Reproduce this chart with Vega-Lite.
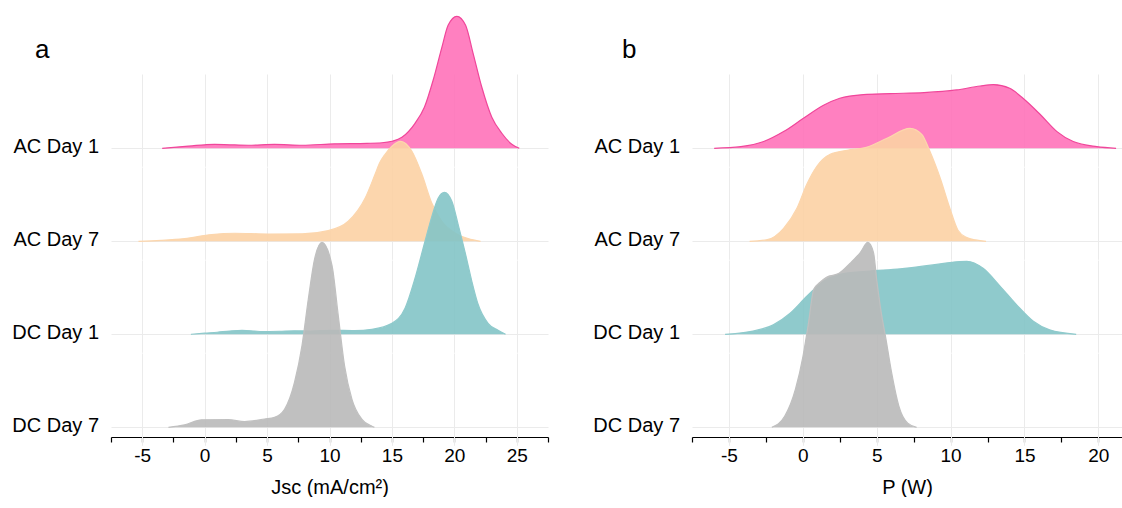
{
  "$schema": "https://vega.github.io/schema/vega-lite/v6.json",
  "background": "white",
  "padding": {"left": 12, "top": 13, "right": 0, "bottom": 0},
  "config": {
    "view": {"stroke": null},
    "font": "Liberation Sans",
    "axis": {
      "labelFont": "Liberation Sans", "labelFontSize": 19, "labelColor": "black",
      "titleFont": "Liberation Sans", "titleFontSize": 20, "titleFontWeight": "normal", "titleColor": "black",
      "domainColor": "black", "domainWidth": 1.2, "tickColor": "black", "tickWidth": 1.2, "tickSize": 5,
      "gridColor": "#EBEBEB", "gridWidth": 1, "labelPadding": 4, "titlePadding": 12
    },
    "header": {
      "labelFont": "Liberation Sans", "labelFontSize": 20, "labelColor": "black",
      "labelAngle": 0, "labelAlign": "left", "labelAnchor": "start", "labelBaseline": "bottom", "labelPadding": 12
    }
  },
  "datasets": {
    "jsc": [
      {"group": "AC Day 1", "x": -3.4, "d": 0}, {"group": "AC Day 1", "x": -2, "d": 0.016}, {"group": "AC Day 1", "x": -1, "d": 0.027},
      {"group": "AC Day 1", "x": 0, "d": 0.038}, {"group": "AC Day 1", "x": 0.8, "d": 0.043}, {"group": "AC Day 1", "x": 2, "d": 0.038},
      {"group": "AC Day 1", "x": 3.5, "d": 0.033}, {"group": "AC Day 1", "x": 5.6, "d": 0.043}, {"group": "AC Day 1", "x": 7.8, "d": 0.033},
      {"group": "AC Day 1", "x": 10.4, "d": 0.049}, {"group": "AC Day 1", "x": 13, "d": 0.054}, {"group": "AC Day 1", "x": 14.2, "d": 0.06},
      {"group": "AC Day 1", "x": 15, "d": 0.076}, {"group": "AC Day 1", "x": 15.8, "d": 0.119}, {"group": "AC Day 1", "x": 16.85, "d": 0.271},
      {"group": "AC Day 1", "x": 17.6, "d": 0.444}, {"group": "AC Day 1", "x": 18.3, "d": 0.737}, {"group": "AC Day 1", "x": 19, "d": 1.094},
      {"group": "AC Day 1", "x": 19.5, "d": 1.333}, {"group": "AC Day 1", "x": 20.2, "d": 1.43}, {"group": "AC Day 1", "x": 20.9, "d": 1.333},
      {"group": "AC Day 1", "x": 21.5, "d": 1.029}, {"group": "AC Day 1", "x": 22.2, "d": 0.661}, {"group": "AC Day 1", "x": 23, "d": 0.336},
      {"group": "AC Day 1", "x": 23.8, "d": 0.163}, {"group": "AC Day 1", "x": 24.6, "d": 0.043}, {"group": "AC Day 1", "x": 25.2, "d": 0},
      {"group": "AC Day 7", "x": -5.3, "d": 0}, {"group": "AC Day 7", "x": -3.5, "d": 0.01}, {"group": "AC Day 7", "x": -1.6, "d": 0.029},
      {"group": "AC Day 7", "x": 0.56, "d": 0.073}, {"group": "AC Day 7", "x": 2.4, "d": 0.087}, {"group": "AC Day 7", "x": 5.1, "d": 0.079},
      {"group": "AC Day 7", "x": 7.8, "d": 0.081}, {"group": "AC Day 7", "x": 9.9, "d": 0.116}, {"group": "AC Day 7", "x": 11.5, "d": 0.217},
      {"group": "AC Day 7", "x": 12.85, "d": 0.466}, {"group": "AC Day 7", "x": 13.65, "d": 0.726}, {"group": "AC Day 7", "x": 14, "d": 0.845},
      {"group": "AC Day 7", "x": 14.45, "d": 0.943}, {"group": "AC Day 7", "x": 15, "d": 1.03}, {"group": "AC Day 7", "x": 15.7, "d": 1.083},
      {"group": "AC Day 7", "x": 16.6, "d": 0.975}, {"group": "AC Day 7", "x": 17.4, "d": 0.726}, {"group": "AC Day 7", "x": 18.2, "d": 0.412},
      {"group": "AC Day 7", "x": 19, "d": 0.217}, {"group": "AC Day 7", "x": 20.1, "d": 0.087}, {"group": "AC Day 7", "x": 21.1, "d": 0.029},
      {"group": "AC Day 7", "x": 22.1, "d": 0},
      {"group": "DC Day 1", "x": -1.1, "d": 0}, {"group": "DC Day 1", "x": 0, "d": 0.012}, {"group": "DC Day 1", "x": 1, "d": 0.022},
      {"group": "DC Day 1", "x": 2, "d": 0.035}, {"group": "DC Day 1", "x": 3, "d": 0.043}, {"group": "DC Day 1", "x": 4, "d": 0.035},
      {"group": "DC Day 1", "x": 4.6, "d": 0.03}, {"group": "DC Day 1", "x": 6, "d": 0.033}, {"group": "DC Day 1", "x": 7.2, "d": 0.038},
      {"group": "DC Day 1", "x": 8.5, "d": 0.035}, {"group": "DC Day 1", "x": 10.2, "d": 0.043}, {"group": "DC Day 1", "x": 12, "d": 0.04},
      {"group": "DC Day 1", "x": 13.4, "d": 0.054}, {"group": "DC Day 1", "x": 15, "d": 0.119}, {"group": "DC Day 1", "x": 16.05, "d": 0.282},
      {"group": "DC Day 1", "x": 16.85, "d": 0.607}, {"group": "DC Day 1", "x": 17.65, "d": 1.008}, {"group": "DC Day 1", "x": 18.2, "d": 1.278},
      {"group": "DC Day 1", "x": 18.7, "d": 1.473}, {"group": "DC Day 1", "x": 19.2, "d": 1.538}, {"group": "DC Day 1", "x": 19.8, "d": 1.441},
      {"group": "DC Day 1", "x": 20.3, "d": 1.192}, {"group": "DC Day 1", "x": 20.9, "d": 0.867}, {"group": "DC Day 1", "x": 21.4, "d": 0.574},
      {"group": "DC Day 1", "x": 21.9, "d": 0.325}, {"group": "DC Day 1", "x": 22.7, "d": 0.119}, {"group": "DC Day 1", "x": 23.5, "d": 0.043},
      {"group": "DC Day 1", "x": 24.1, "d": 0},
      {"group": "DC Day 7", "x": -2.9, "d": 0}, {"group": "DC Day 7", "x": -1.6, "d": 0.027}, {"group": "DC Day 7", "x": -0.25, "d": 0.081},
      {"group": "DC Day 7", "x": 1.9, "d": 0.083}, {"group": "DC Day 7", "x": 3.2, "d": 0.062}, {"group": "DC Day 7", "x": 4.8, "d": 0.09},
      {"group": "DC Day 7", "x": 5.6, "d": 0.108}, {"group": "DC Day 7", "x": 6.4, "d": 0.195}, {"group": "DC Day 7", "x": 7.2, "d": 0.488},
      {"group": "DC Day 7", "x": 7.8, "d": 0.888}, {"group": "DC Day 7", "x": 8.3, "d": 1.387}, {"group": "DC Day 7", "x": 8.8, "d": 1.82},
      {"group": "DC Day 7", "x": 9.4, "d": 2.004}, {"group": "DC Day 7", "x": 10.2, "d": 1.755}, {"group": "DC Day 7", "x": 10.7, "d": 1.213},
      {"group": "DC Day 7", "x": 11.2, "d": 0.672}, {"group": "DC Day 7", "x": 11.8, "d": 0.303}, {"group": "DC Day 7", "x": 12.6, "d": 0.087},
      {"group": "DC Day 7", "x": 13.4, "d": 0.011}, {"group": "DC Day 7", "x": 13.6, "d": 0}
    ],
    "power": [
      {"group": "AC Day 1", "x": -6, "d": 0}, {"group": "AC Day 1", "x": -4.2, "d": 0.018}, {"group": "AC Day 1", "x": -2.65, "d": 0.073},
      {"group": "AC Day 1", "x": -1.3, "d": 0.181}, {"group": "AC Day 1", "x": 0.04, "d": 0.325}, {"group": "AC Day 1", "x": 1.4, "d": 0.466},
      {"group": "AC Day 1", "x": 2.5, "d": 0.542}, {"group": "AC Day 1", "x": 4.1, "d": 0.582}, {"group": "AC Day 1", "x": 5.9, "d": 0.593},
      {"group": "AC Day 1", "x": 8.2, "d": 0.603}, {"group": "AC Day 1", "x": 10.4, "d": 0.632}, {"group": "AC Day 1", "x": 12, "d": 0.675},
      {"group": "AC Day 1", "x": 12.9, "d": 0.69}, {"group": "AC Day 1", "x": 14, "d": 0.65}, {"group": "AC Day 1", "x": 14.9, "d": 0.542},
      {"group": "AC Day 1", "x": 16.1, "d": 0.361}, {"group": "AC Day 1", "x": 17.2, "d": 0.181}, {"group": "AC Day 1", "x": 18.3, "d": 0.073},
      {"group": "AC Day 1", "x": 19.9, "d": 0.018}, {"group": "AC Day 1", "x": 21.2, "d": 0},
      {"group": "AC Day 7", "x": -3.6, "d": 0}, {"group": "AC Day 7", "x": -2.4, "d": 0.018}, {"group": "AC Day 7", "x": -1.3, "d": 0.141},
      {"group": "AC Day 7", "x": -0.4, "d": 0.358}, {"group": "AC Day 7", "x": 0.27, "d": 0.618}, {"group": "AC Day 7", "x": 0.95, "d": 0.813},
      {"group": "AC Day 7", "x": 1.85, "d": 0.943}, {"group": "AC Day 7", "x": 3, "d": 0.986}, {"group": "AC Day 7", "x": 4.3, "d": 1.018},
      {"group": "AC Day 7", "x": 5.7, "d": 1.116}, {"group": "AC Day 7", "x": 7.25, "d": 1.224}, {"group": "AC Day 7", "x": 8.05, "d": 1.159},
      {"group": "AC Day 7", "x": 8.6, "d": 0.975}, {"group": "AC Day 7", "x": 9.3, "d": 0.683}, {"group": "AC Day 7", "x": 9.95, "d": 0.358},
      {"group": "AC Day 7", "x": 10.5, "d": 0.12}, {"group": "AC Day 7", "x": 11.1, "d": 0.04}, {"group": "AC Day 7", "x": 11.7, "d": 0.015},
      {"group": "AC Day 7", "x": 12.4, "d": 0},
      {"group": "DC Day 1", "x": -5.26, "d": 0}, {"group": "DC Day 1", "x": -3.57, "d": 0.029}, {"group": "DC Day 1", "x": -2, "d": 0.102},
      {"group": "DC Day 1", "x": -0.86, "d": 0.228}, {"group": "DC Day 1", "x": 0.27, "d": 0.412}, {"group": "DC Day 1", "x": 1.4, "d": 0.574},
      {"group": "DC Day 1", "x": 2.5, "d": 0.65}, {"group": "DC Day 1", "x": 4.3, "d": 0.683}, {"group": "DC Day 1", "x": 6.6, "d": 0.709},
      {"group": "DC Day 1", "x": 8.8, "d": 0.752}, {"group": "DC Day 1", "x": 10.6, "d": 0.788}, {"group": "DC Day 1", "x": 11.1, "d": 0.791},
      {"group": "DC Day 1", "x": 12.2, "d": 0.715}, {"group": "DC Day 1", "x": 13.3, "d": 0.531}, {"group": "DC Day 1", "x": 14.5, "d": 0.314},
      {"group": "DC Day 1", "x": 15.6, "d": 0.141}, {"group": "DC Day 1", "x": 16.7, "d": 0.048}, {"group": "DC Day 1", "x": 18.5, "d": 0},
      {"group": "DC Day 7", "x": -2.1, "d": 0}, {"group": "DC Day 7", "x": -1.23, "d": 0.119}, {"group": "DC Day 7", "x": -0.5, "d": 0.412},
      {"group": "DC Day 7", "x": 0.01, "d": 0.769}, {"group": "DC Day 7", "x": 0.38, "d": 1.127}, {"group": "DC Day 7", "x": 0.74, "d": 1.495},
      {"group": "DC Day 7", "x": 1.17, "d": 1.571}, {"group": "DC Day 7", "x": 1.6, "d": 1.625}, {"group": "DC Day 7", "x": 2.45, "d": 1.668},
      {"group": "DC Day 7", "x": 3.2, "d": 1.777}, {"group": "DC Day 7", "x": 3.9, "d": 1.896}, {"group": "DC Day 7", "x": 4.4, "d": 2.004},
      {"group": "DC Day 7", "x": 4.78, "d": 1.896}, {"group": "DC Day 7", "x": 5, "d": 1.6}, {"group": "DC Day 7", "x": 5.3, "d": 1.25},
      {"group": "DC Day 7", "x": 5.6, "d": 0.98}, {"group": "DC Day 7", "x": 6, "d": 0.6}, {"group": "DC Day 7", "x": 6.5, "d": 0.23},
      {"group": "DC Day 7", "x": 7.1, "d": 0.045}, {"group": "DC Day 7", "x": 7.7, "d": 0}
    ]
  },
  "spacing": 44,
  "hconcat": [
    {
      "data": {"name": "jsc"},
      "bounds": "flush",
      "spacing": 0,
      "facet": {"row": {"field": "group", "type": "nominal", "title": null, "header": {}}},
      "spec": {
        "width": 437,
        "height": 92.3,
        "layer": [
          {
            "mark": {"type": "area", "interpolate": "monotone", "opacity": 0.9},
            "encoding": {
              "x": {"field": "x", "type": "quantitative",
                "scale": {"domain": [-7.5, 27.5], "nice": false, "zero": false},
                "axis": {"title": "Jsc (mA/cm²)", "tickCount": 40,
                  "values": [-7.5, -5, -2.5, 0, 2.5, 5, 7.5, 10, 12.5, 15, 17.5, 20, 22.5, 25, 27.5],
                  "labelExpr": "datum.value % 5 === 0 ? (datum.value < 0 ? '-' + (-datum.value) : '' + datum.value) : ''",
                  "labelOverlap": false, "labelFlush": false,
                  "gridColor": {"condition": {"test": "datum.value % 5 === 0", "value": "#EBEBEB"}, "value": "transparent"}}},
              "y": {"field": "d", "type": "quantitative",
                "scale": {"domain": [0, 1], "range": [83.3, -9], "nice": false, "zero": false},
                "axis": {"values": [0], "grid": true, "domain": false, "ticks": false, "labels": false, "title": null}},
              "fill": {"field": "group", "type": "nominal", "legend": null,
                "scale": {"domain": ["AC Day 1", "AC Day 7", "DC Day 1", "DC Day 7"], "range": ["#FF72B9", "#FCD1A4", "#83C4C6", "#B9B9B9"]}}
            }
          },
          {
            "mark": {"type": "line", "interpolate": "monotone", "strokeWidth": 1.2},
            "encoding": {
              "x": {"field": "x", "type": "quantitative"},
              "y": {"field": "d", "type": "quantitative"},
              "stroke": {"field": "group", "type": "nominal", "legend": null,
                "scale": {"domain": ["AC Day 1", "AC Day 7", "DC Day 1", "DC Day 7"], "range": ["#F0469A", "#FCD6AD", "#8FCACC", "#C0C0C0"]}}
            }
          },
          {
            "transform": [{"filter": "datum.group === 'AC Day 1'"}, {"aggregate": [{"op": "count", "as": "n"}], "groupby": ["group"]}],
            "mark": {"type": "text", "text": "a", "font": "Liberation Sans", "fontSize": 26, "align": "center", "baseline": "alphabetic", "color": "black"},
            "encoding": {"x": {"datum": -13}, "y": {"datum": 0.975}}
          }
        ]
      }
    },
    {
      "data": {"name": "power"},
      "bounds": "flush",
      "spacing": 0,
      "facet": {"row": {"field": "group", "type": "nominal", "title": null, "header": {}}},
      "spec": {
        "width": 430,
        "height": 92.3,
        "layer": [
          {
            "mark": {"type": "area", "interpolate": "monotone", "opacity": 0.9},
            "encoding": {
              "x": {"field": "x", "type": "quantitative",
                "scale": {"domain": [-7.5, 21.6], "nice": false, "zero": false},
                "axis": {"title": "P (W)", "tickCount": 40,
                  "values": [-7.5, -5, -2.5, 0, 2.5, 5, 7.5, 10, 12.5, 15, 17.5, 20],
                  "labelExpr": "datum.value % 5 === 0 ? (datum.value < 0 ? '-' + (-datum.value) : '' + datum.value) : ''",
                  "labelOverlap": false, "labelFlush": false,
                  "gridColor": {"condition": {"test": "datum.value % 5 === 0", "value": "#EBEBEB"}, "value": "transparent"}}},
              "y": {"field": "d", "type": "quantitative",
                "scale": {"domain": [0, 1], "range": [83.3, -9], "nice": false, "zero": false},
                "axis": {"values": [0], "grid": true, "domain": false, "ticks": false, "labels": false, "title": null}},
              "fill": {"field": "group", "type": "nominal", "legend": null,
                "scale": {"domain": ["AC Day 1", "AC Day 7", "DC Day 1", "DC Day 7"], "range": ["#FF72B9", "#FCD1A4", "#83C4C6", "#B9B9B9"]}}
            }
          },
          {
            "mark": {"type": "line", "interpolate": "monotone", "strokeWidth": 1.2},
            "encoding": {
              "x": {"field": "x", "type": "quantitative"},
              "y": {"field": "d", "type": "quantitative"},
              "stroke": {"field": "group", "type": "nominal", "legend": null,
                "scale": {"domain": ["AC Day 1", "AC Day 7", "DC Day 1", "DC Day 7"], "range": ["#F0469A", "#FCD6AD", "#8FCACC", "#C0C0C0"]}}
            }
          },
          {
            "transform": [{"filter": "datum.group === 'AC Day 1'"}, {"aggregate": [{"op": "count", "as": "n"}], "groupby": ["group"]}],
            "mark": {"type": "text", "text": "b", "font": "Liberation Sans", "fontSize": 26, "align": "center", "baseline": "alphabetic", "color": "black"},
            "encoding": {"x": {"datum": -11.75}, "y": {"datum": 0.975}}
          }
        ]
      }
    }
  ]
}
